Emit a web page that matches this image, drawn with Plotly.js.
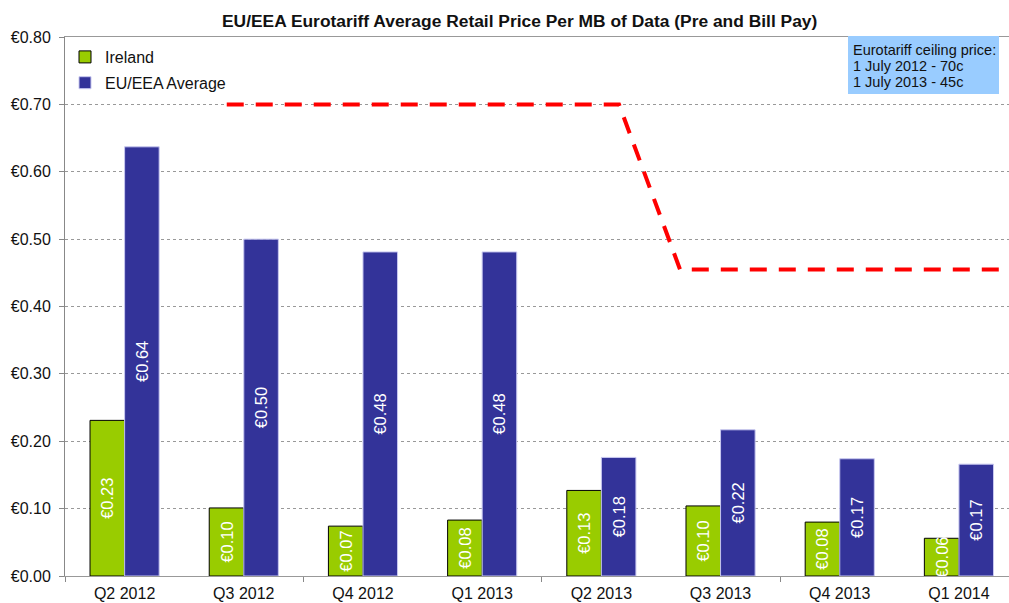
<!DOCTYPE html>
<html>
<head>
<meta charset="utf-8">
<script src="https://cdn.plot.ly/plotly-3.0.1.min.js"></script>
<style>html,body{margin:0;padding:0;background:#fff;}#chart{width:1009px;height:603px;}</style>
</head>
<body>
<div id="chart"></div>
<script>
var categories = ['Q2 2012','Q3 2012','Q4 2012','Q1 2013','Q2 2013','Q3 2013','Q4 2013','Q1 2014'];
var irelandValues = [0.231, 0.101, 0.074, 0.083, 0.127, 0.104, 0.080, 0.056];
var euValues = [0.637, 0.500, 0.481, 0.481, 0.176, 0.217, 0.174, 0.166];
// ceiling price line (positions in category units, values in EUR)
var ceilingX = [0.857, 4.148, 4.66, 7.5];
var ceilingY = [0.70, 0.70, 0.455, 0.455];
var boxLines = ['Eurotariff ceiling price:', '1 July 2012 - 70c', '1 July 2013 - 45c'];

var idx = categories.map(function(c,i){return i;});
var font = '"Liberation Sans", Arial, sans-serif';

var traces = [
  {
    type:'bar', name:'Ireland', x: idx, y: irelandValues,
    marker:{color:'#99CC00', line:{color:'#000000', width:1}},
    texttemplate:'€%{y:.2f}', textposition:'inside', insidetextanchor:'middle',
    textangle:-90, constraintext:'none',
    insidetextfont:{family:font, size:16.5, color:'#ffffff'},
    hoverinfo:'skip', legendgroup:'a'
  },
  {
    type:'bar', name:'EU/EEA Average', x: idx, y: euValues,
    marker:{color:'#333399', line:{color:'#c8c8f0', width:1}},
    texttemplate:'€%{y:.2f}', textposition:'inside', insidetextanchor:'middle',
    textangle:-90, constraintext:'none',
    insidetextfont:{family:font, size:16.5, color:'#ffffff'},
    hoverinfo:'skip', legendgroup:'b'
  },
  {
    type:'scatter', mode:'lines', x: ceilingX, y: ceilingY, xaxis:'x2',
    line:{color:'#FF0000', width:4, dash:'17px,12px'},
    showlegend:false, hoverinfo:'skip'
  }
];

var yTop = 37, yBot = 576, plotH = yBot - yTop, plotL = 65, plotW = 944;
function py(px){ return (yBot - px)/plotH; }
function pxx(px){ return (px - plotL)/plotW; }

var annotations = boxLines.map(function(t,i){
  return {xref:'paper', yref:'paper', x:pxx(851), y:py(50 + i*16), xanchor:'left', yanchor:'middle',
          text:t, showarrow:false, font:{family:font, size:14.5, color:'#111'}};
});

var layout = {
  width:1009, height:603,
  margin:{l:65, r:0, t:37, b:27, pad:0},
  paper_bgcolor:'#ffffff', plot_bgcolor:'#ffffff',
  title:{text:'<b>EU/EEA Eurotariff Average Retail Price Per MB of Data (Pre and Bill Pay)</b>',
         font:{family:font, size:17.4, color:'#111'}, x:0.515, xanchor:'center', y:0.965, yanchor:'middle'},
  barmode:'group', bargap:0.42, bargroupgap:0,
  showlegend:true,
  legend:{x:0.0, xanchor:'left', y:py(40), yanchor:'top', bgcolor:'rgba(0,0,0,0)',
          font:{family:font, size:16, color:'#111'}, traceorder:'grouped', tracegroupgap:2, itemwidth:30},
  xaxis:{range:[-0.5, 7.42], tickvals: idx, ticktext: categories, ticks:'', showgrid:false,
         showline:true, linecolor:'#999', linewidth:1, mirror:true, zeroline:false,
         ticklabelstandoff:3,
         tickfont:{family:font, size:16, color:'#111'}, fixedrange:true},
  xaxis2:{overlaying:'x', anchor:'y', side:'bottom', range:[-0.5, 7.42],
          tickvals:[-0.5, 1.5, 3.5, 5.5], ticktext:['','','',''], ticks:'outside', ticklen:5,
          tickcolor:'#888', showgrid:false, showline:false, zeroline:false},
  yaxis:{range:[0, 0.8], dtick:0.1, tick0:0, tickprefix:'€', tickformat:'.2f',
         ticks:'outside', ticklen:5, tickcolor:'#888', showline:true, linecolor:'#888', linewidth:1,
         showgrid:true, gridcolor:'#999', griddash:'dot', gridwidth:1, zeroline:false,
         ticklabelstandoff:5,
         tickfont:{family:font, size:16, color:'#111'}},
  shapes:[{type:'rect', xref:'paper', yref:'paper', x0:pxx(848), x1:pxx(999), y0:py(94), y1:py(36),
           fillcolor:'#99CCFF', line:{width:0}, layer:'above'}],
  annotations: annotations
};

Plotly.newPlot('chart', traces, layout, {displayModeBar:false, staticPlot:true});
</script>
</body>
</html>
